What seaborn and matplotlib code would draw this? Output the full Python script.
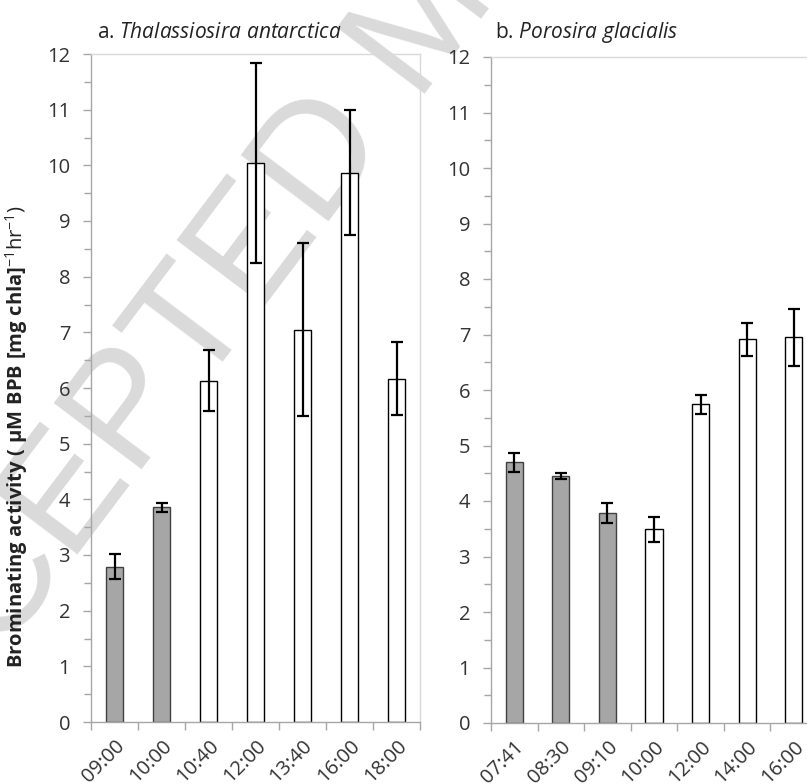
import matplotlib
matplotlib.use("Agg")
import matplotlib.pyplot as plt
import pandas as pd
import seaborn as sns
from matplotlib.ticker import MultipleLocator, FixedLocator, NullFormatter

# Thalassiosira antarctica
ta_times = ["09:00", "10:00", "10:40", "12:00", "13:40", "16:00", "18:00"]
ta_activity = [2.79, 3.86, 6.13, 10.04, 7.05, 9.87, 6.17]
ta_sd = [0.23, 0.08, 0.55, 1.79, 1.56, 1.13, 0.65]
ta_fill = ["grey", "grey", "open", "open", "open", "open", "open"]

# Porosira glacialis
pg_times = ["07:41", "08:30", "09:10", "10:00", "12:00", "14:00", "16:00"]
pg_activity = [4.70, 4.45, 3.78, 3.49, 5.74, 6.91, 6.95]
pg_sd = [0.17, 0.05, 0.18, 0.23, 0.17, 0.29, 0.51]
pg_fill = ["grey", "grey", "grey", "open", "open", "open", "open"]

y_ticks = list(range(0, 13))

sns.set_theme(style="white")
plt.rcParams["font.family"] = ["Open Sans", "DejaVu Sans"]
plt.rcParams["mathtext.fontset"] = "custom"
plt.rcParams["mathtext.rm"] = "Open Sans"
plt.rcParams["mathtext.it"] = "Open Sans:italic"
plt.rcParams["mathtext.bf"] = "Open Sans:bold"

W, H = 807, 784
fig = plt.figure(figsize=(W / 100, H / 100), dpi=100)
fig.patch.set_facecolor("white")

# faint diagonal watermark behind the panels
fig.text(-133 / W, 1 - 834 / H, "ACCEPTED MANUSCRIPT", rotation=53,
         rotation_mode="anchor", ha="left", va="baseline",
         family="Liberation Sans", fontsize=115,
         color="#dadada", zorder=-1)

ax1 = fig.add_axes([91 / W, 62 / H, 329 / W, 668 / H])
ax2 = fig.add_axes([491 / W, 61 / H, 326 / W, 666 / H])

TICK_COLOR = "#333333"
TICK_SIZE = 14.5


def panel(ax, times, vals, sds, fill):
    df = pd.DataFrame({"time": times, "activity": vals, "fill": fill})
    sns.barplot(data=df, x="time", y="activity", hue="fill", order=times,
                palette={"grey": "#a6a6a6", "open": "white"}, dodge=False,
                width=0.37, legend=False, ax=ax, zorder=2,
                edgecolor="black", linewidth=1.0)
    for p in ax.patches:
        fc = p.get_facecolor()
        if fc[0] < 0.9:
            p.set_edgecolor("#404040")
    ax.errorbar(range(len(times)), vals, yerr=sds, fmt="none",
                ecolor="black", elinewidth=1.6, capsize=4.5, capthick=1.6,
                zorder=3)
    ax.set_facecolor("none")
    ax.set_xlim(-0.5, len(times) - 0.5)
    ax.set_ylim(0, 12)
    ax.set_xlabel("")
    ax.set_ylabel("")

    ax.yaxis.set_major_locator(FixedLocator(y_ticks))
    ax.yaxis.set_minor_locator(MultipleLocator(0.5))
    ax.set_yticklabels([str(t) for t in y_ticks])
    ax.tick_params(axis="y", which="major", length=6, width=1,
                   color="#a6a6a6", pad=9, labelsize=TICK_SIZE,
                   labelcolor=TICK_COLOR, left=True)
    ax.tick_params(axis="y", which="minor", length=5, width=1,
                   color="#a6a6a6", left=True)

    # category labels at bar centres, tick marks at category boundaries
    ax.xaxis.set_major_locator(FixedLocator(range(len(times))))
    ax.set_xticklabels(times, rotation=45, ha="right",
                       rotation_mode="anchor")
    ax.tick_params(axis="x", which="major", length=0, pad=10,
                   labelsize=TICK_SIZE, labelcolor=TICK_COLOR, bottom=True)
    ax.xaxis.set_minor_locator(
        FixedLocator([i - 0.5 for i in range(len(times) + 1)]))
    ax.xaxis.set_minor_formatter(NullFormatter())
    ax.tick_params(axis="x", which="minor", length=6, width=1,
                   color="#a6a6a6", bottom=True)

    for s in ("left", "bottom"):
        ax.spines[s].set_color("#a6a6a6")
        ax.spines[s].set_linewidth(1.0)
    for s in ("top", "right"):
        ax.spines[s].set_color("#d9d9d9")
        ax.spines[s].set_linewidth(1.0)
    ax.grid(False)


panel(ax1, ta_times, ta_activity, ta_sd, ta_fill)
panel(ax2, pg_times, pg_activity, pg_sd, pg_fill)

fig.text(97 / W, 1 - 38 / H, r"a. $\mathit{Thalassiosira\ antarctica}$",
         ha="left", va="baseline", fontsize=15, color="#222222")
fig.text(495 / W, 1 - 38 / H, r"b. $\mathit{Porosira\ glacialis}$",
         ha="left", va="baseline", fontsize=15, color="#222222")

ylabel = (r"$\mathbf{Brominating\ activity\ (\ µM\ BPB\ [mg\ chla]}"
          r"^{\mathrm{-1}}\mathrm{hr}^{\mathrm{-1}}\mathrm{)}$")
fig.text(17 / W, 1 - 437 / H, ylabel, rotation=90, ha="center",
         va="center", fontsize=14.5, color="#222222")

fig.savefig("out.png", dpi=100)
